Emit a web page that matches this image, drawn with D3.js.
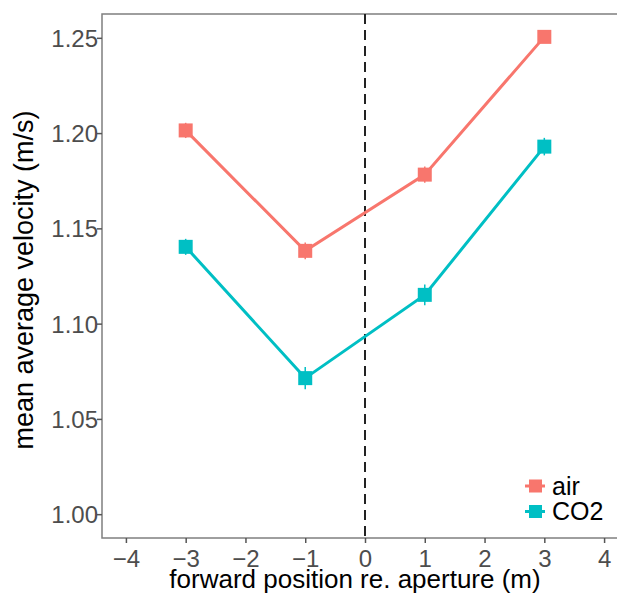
<html>
<meta charset="utf-8" />
<script src="https://d3js.org/d3.v7.min.js"></script>
<style>
  body { margin: 0; background: #fff; }
  text { font-family: "Liberation Sans", Arial, sans-serif; }
</style>
<body>
<svg id="chart" width="617" height="597"></svg>
<script>
// data
const positions = [-3, -1, 1, 3];
const airMean = [1.2014, 1.1382, 1.1782, 1.2505];
const airSe = [0.004, 0.0044, 0.0043, 0.003];
const co2Mean = [1.1403, 1.0714, 1.1151, 1.1929];
const co2Se = [0.0042, 0.0058, 0.0055, 0.0046];
const groups = ["air", "CO2"];
const colors = ["#F8766D", "#00BFC4"];
const xTicks = [-4, -3, -2, -1, 0, 1, 2, 3, 4];
const yTicks = [1.0, 1.05, 1.1, 1.15, 1.2, 1.25];

const padLeft = 102, padTop = 14, pw = 526, ph = 524;

const x = d3.scaleLinear().domain([-4.4, 4.4]).range([padLeft, padLeft + pw]);
const y = d3.scaleLinear().domain([0.9875, 1.2625]).range([padTop + ph, padTop]);

const svg = d3.select("#chart");

const series = [
  { key: groups[0], color: colors[0], mean: airMean, se: airSe },
  { key: groups[1], color: colors[1], mean: co2Mean, se: co2Se }
].map(s => ({ ...s, pts: positions.map((p, i) => ({ x: p, y: s.mean[i], se: s.se[i] })) }));

// panel border (right side runs off the image)
svg.append("rect")
  .attr("x", padLeft).attr("y", padTop)
  .attr("width", pw).attr("height", ph)
  .attr("fill", "none")
  .attr("stroke", "#7f7f7f")
  .attr("stroke-width", 1.5);

// axes
const xAxis = svg.append("g")
  .attr("transform", `translate(0,${padTop + ph})`)
  .call(d3.axisBottom(x).tickValues(xTicks).tickSize(5).tickSizeOuter(0)
    .tickFormat(d => d < 0 ? "\u2212" + Math.abs(d) : d));
const yAxis = svg.append("g")
  .attr("transform", `translate(${padLeft},0)`)
  .call(d3.axisLeft(y).tickValues(yTicks).tickSize(5).tickSizeOuter(0)
    .tickFormat(d3.format(".2f")));

[xAxis, yAxis].forEach(a => {
  a.select(".domain").remove();
  a.selectAll(".tick line").attr("stroke", "#555").attr("stroke-width", 1.5);
  a.selectAll(".tick text")
    .attr("fill", "#4d4d4d")
    .style("font-size", "24px")
    .style("font-family", "Liberation Sans, Arial, sans-serif");
});
xAxis.selectAll(".tick text").attr("y", 12).attr("dy", "0.71em");
yAxis.selectAll(".tick text").attr("x", -4).attr("dy", "0.35em");

// dashed line at 0
svg.append("line")
  .attr("x1", x(0)).attr("x2", x(0))
  .attr("y1", padTop).attr("y2", padTop + ph)
  .attr("stroke", "#222")
  .attr("stroke-width", 2)
  .attr("stroke-dasharray", "10,6");

const line = d3.line().x(d => x(d.x)).y(d => y(d.y));

series.forEach(s => {
  const g = svg.append("g");
  g.append("path")
    .datum(s.pts)
    .attr("d", line)
    .attr("fill", "none")
    .attr("stroke", s.color)
    .attr("stroke-width", 3);
  g.selectAll("line.err")
    .data(s.pts)
    .enter()
    .append("line")
    .attr("class", "err")
    .attr("x1", d => x(d.x)).attr("x2", d => x(d.x))
    .attr("y1", d => y(d.y - d.se)).attr("y2", d => y(d.y + d.se))
    .attr("stroke", s.color)
    .attr("stroke-width", 1.5);
  g.selectAll("rect")
    .data(s.pts)
    .enter()
    .append("rect")
    .attr("x", d => x(d.x) - 7).attr("y", d => y(d.y) - 7)
    .attr("width", 14).attr("height", 14)
    .attr("fill", s.color);
});

// legend
const legend = svg.append("g").attr("transform", "translate(525,486)");
series.forEach((s, i) => {
  const row = legend.append("g").attr("transform", `translate(0,${i * 25.5})`);
  row.append("line")
    .attr("x1", 0).attr("x2", 20)
    .attr("stroke", s.color).attr("stroke-width", 3);
  row.append("rect")
    .attr("x", 4).attr("y", -6.5)
    .attr("width", 13).attr("height", 13)
    .attr("fill", s.color);
  row.append("text")
    .attr("x", 27).attr("dy", "0.35em")
    .style("font-size", "25px")
    .attr("fill", "#000")
    .text(s.key);
});

// axis titles
svg.append("text")
  .attr("x", 355)
  .attr("y", 588)
  .attr("text-anchor", "middle")
  .style("font-size", "26px")
  .text("forward position re. aperture (m)");

svg.append("text")
  .attr("transform", `translate(33,280) rotate(-90)`)
  .attr("text-anchor", "middle")
  .style("font-size", "27px")
  .text("mean average velocity (m/s)");
</script>
</body>
</html>
